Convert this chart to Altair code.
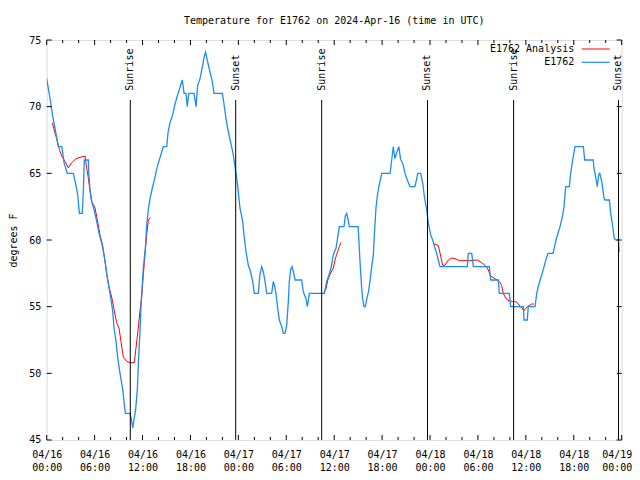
import datetime as dt
import altair as alt
import pandas as pd

# ---------------- data (hours after 2024-04-16 00:00 UTC, degrees F) ----------------
blue_hours = [0.00, 0.42, 0.75, 1.04, 1.33, 1.45, 1.90, 2.17, 2.58, 3.33, 3.67, 3.88, 4.09, 4.46, 4.59, 4.71,
              5.21, 5.28, 5.42, 5.63, 5.92, 6.26, 6.59, 6.88, 7.18, 7.43, 7.72, 8.01, 8.26, 8.43, 8.68, 8.85,
              9.05, 9.26, 9.52, 9.68, 9.85, 10.43, 10.60, 10.77, 10.95, 11.14, 11.35, 11.50, 11.68, 11.85,
              12.10, 12.35, 12.52, 12.73, 12.94, 13.23, 13.56, 13.85, 14.10, 14.40, 14.60, 15.03, 15.20,
              15.44, 15.78, 16.07, 16.36, 16.61, 16.98, 17.20, 17.45, 17.60, 17.80, 18.45, 18.70, 18.90,
              19.20, 19.50, 19.74, 19.90, 20.10, 20.45, 20.70, 20.95, 22.00, 22.20, 22.45, 22.75, 23.04,
              23.30, 23.58, 23.87, 24.20, 24.54, 24.70, 24.96, 25.25, 25.54, 25.79, 26.00, 26.50, 26.70,
              26.92, 27.13, 27.34, 27.55, 28.17, 28.38, 28.55, 28.71, 28.92, 29.13, 29.43, 29.63, 29.84,
              30.05, 30.26, 30.38, 30.55, 30.72, 30.90, 31.10, 31.93, 32.14, 32.47, 32.64, 32.89, 34.77,
              35.06, 35.35, 35.60, 35.89, 36.23, 36.44, 36.64, 37.23, 37.39, 37.57, 37.75, 37.90, 39.00,
              39.23, 39.44, 39.56, 39.73, 39.90, 40.08, 40.29, 40.50, 40.70, 40.90, 41.03, 41.23, 41.40,
              41.60, 41.95, 43.00, 43.20, 43.40, 43.60, 43.85, 44.10, 44.30, 44.65, 44.87, 45.15, 45.50,
              46.10, 46.30, 46.45, 46.83, 47.10, 47.28, 47.58, 47.80, 48.08, 48.33, 48.62, 48.83, 49.04,
              49.25, 52.67, 52.80, 53.22, 53.42, 55.42, 55.60, 56.55, 56.67, 57.93, 58.10, 59.68, 59.77,
              60.18, 60.30, 61.15, 61.36, 61.55, 61.78, 62.05, 62.28, 62.55, 62.77, 63.40, 63.78, 64.07,
              64.28, 64.62, 64.78, 64.99, 65.44, 65.61, 65.86, 66.15, 67.20, 67.37, 68.45, 68.50, 68.78,
              68.95, 69.12, 69.25, 69.50, 69.80, 69.92, 70.46, 70.63, 70.88, 71.08, 71.30, 71.60, 71.68]
blue_temps = [72.1, 70.6, 69.3, 68.4, 67.4, 67.0, 67.0, 65.8, 65.0, 65.0, 64.1, 63.4, 62.0, 62.0, 63.7, 66.0,
              66.0, 64.9, 63.8, 62.9, 62.3, 61.4, 60.4, 59.8, 58.9, 57.9, 56.7, 55.7, 54.7, 53.4, 52.4, 51.4,
              50.5, 49.7, 48.8, 47.9, 47.0, 47.0, 46.6, 45.9, 46.6, 47.3, 48.8, 51.0, 53.1, 55.6,
              57.9, 59.4, 61.1, 62.3, 63.1, 63.9, 64.7, 65.5, 66.0, 66.6, 67.0, 67.0, 68.1,
              68.8, 69.4, 70.2, 70.8, 71.3, 72.0, 71.0, 71.0, 70.0, 71.0, 71.0, 70.0, 71.6,
              72.1, 73.0, 73.8, 74.1, 73.5, 72.6, 72.0, 71.0, 71.0, 70.2, 69.1, 68.1, 67.3,
              66.6, 65.5, 64.3, 62.4, 61.4, 60.4, 59.1, 58.1, 57.6, 56.9, 56.0, 56.0, 57.4,
              58.0, 57.6, 56.9, 56.0, 56.0, 56.9, 56.5, 56.0, 54.9, 54.0, 53.5, 53.0, 53.0,
              53.6, 55.4, 56.9, 57.8, 58.0, 57.6, 57.0, 57.0, 56.1, 55.6, 55.0, 56.0, 56.0,
              56.9, 57.4, 57.9, 58.9, 59.4, 60.2, 61.0, 61.0, 61.8, 62.0, 61.5, 61.0, 61.0,
              58.4, 56.4, 55.6, 55.0, 55.0, 55.6, 56.1, 57.0, 58.0, 58.9, 60.4, 62.4, 63.3,
              64.0, 65.0, 65.0, 66.0, 67.0, 66.1, 66.6, 67.0, 66.1, 65.6, 65.0, 64.5, 64.0,
              64.0, 64.5, 65.0, 65.0, 64.2, 63.3, 62.3, 61.2, 60.4, 60.0, 59.4, 59.0, 58.5,
              58.0, 58.0, 59.0, 59.0, 58.0, 58.0, 57.0, 57.0, 56.0, 56.0, 55.0, 55.0, 54.0,
              54.0, 55.0, 55.0, 56.0, 56.5, 57.0, 57.5, 58.0, 58.6, 59.0, 59.0, 60.0, 60.6,
              61.0, 61.9, 62.5, 64.0, 64.0, 65.0, 66.0, 67.0, 67.0, 66.0, 66.0, 65.5, 64.6,
              64.0, 64.9, 65.0, 64.4, 63.1, 63.0, 63.0, 62.0, 61.0, 60.1, 60.0, 60.0, 59.1]

red1_hours = [0.70, 1.00, 1.25, 1.58, 1.88, 2.29, 2.71, 3.13, 3.67, 4.17, 4.80, 5.00, 5.20, 5.42, 5.63, 6.05,
              6.34, 6.67, 7.00, 7.30, 7.51, 7.84, 8.14, 8.43, 8.76, 9.05, 9.30, 9.60, 10.02, 10.43, 10.97,
              11.18, 11.47, 11.68, 11.90, 12.10, 12.31, 12.52, 12.73, 13.02]
red1_temps = [68.8, 68.1, 67.6, 66.8, 66.3, 65.9, 65.4, 65.8, 66.1, 66.2, 66.3, 65.4, 64.7, 63.7, 62.9, 62.4,
              61.5, 60.4, 59.6, 58.4, 57.4, 56.4, 55.7, 54.8, 53.8, 53.4, 52.4, 51.2, 50.9, 50.8, 50.8,
              51.9, 53.4, 54.7, 55.7, 57.4, 58.9, 60.4, 61.5, 61.7]
red2_hours = [34.70, 35.00, 35.20, 35.47, 35.89, 36.10, 36.30, 36.64, 36.85]
red2_temps = [56.0, 56.4, 57.0, 57.4, 57.9, 58.5, 58.9, 59.5, 59.8]
red3_hours = [48.50, 49.04, 49.33, 49.58, 49.85, 50.30, 50.71, 51.13, 51.67, 53.00, 53.92, 54.47, 54.88,
              55.05, 55.30, 55.60, 56.13, 56.67, 56.96, 57.17, 57.38, 57.67, 58.22, 58.84, 59.26, 59.77,
              60.18, 60.73, 61.02]
red3_temps = [59.7, 59.6, 58.8, 58.1, 58.1, 58.5, 58.65, 58.6, 58.45, 58.45, 58.5, 58.3, 58.1,
              58.0, 57.75, 57.3, 57.1, 56.9, 56.6, 56.0, 55.75, 55.5, 55.4, 55.35, 55.05, 54.7,
              55.0, 55.2, 55.2]

sun_times = ["2024-04-16 10:28", "2024-04-16 23:40", "2024-04-17 10:26",
             "2024-04-17 23:41", "2024-04-18 10:28", "2024-04-18 23:36"]
sun_labels = ["Sunrise", "Sunset", "Sunrise", "Sunset", "Sunrise", "Sunset"]

series_names = ["E1762 Analysis", "E1762"]
series_colors = ["#ff0000", "#1e8cf0"]
y_ticks = [45, 50, 55, 60, 65, 70, 75]

# ---------------- build tables ----------------
BASE = dt.datetime(2024, 4, 16, tzinfo=dt.timezone.utc)


def to_ms(h):
    return int((BASE + dt.timedelta(hours=h)).timestamp() * 1000)


def ts_ms(s):
    return int(dt.datetime.strptime(s, "%Y-%m-%d %H:%M").replace(tzinfo=dt.timezone.utc).timestamp() * 1000)


blue_df = pd.DataFrame({"t": [to_ms(h) for h in blue_hours], "temp": blue_temps,
                        "series": series_names[1], "seg": "b"})
red_rows = []
for seg, (hs, ts) in enumerate([(red1_hours, red1_temps), (red2_hours, red2_temps), (red3_hours, red3_temps)]):
    for h, v in zip(hs, ts):
        red_rows.append({"t": to_ms(h), "temp": v, "series": series_names[0], "seg": f"r{seg}"})
red_df = pd.DataFrame(red_rows)

sun_df = pd.DataFrame({"t": [ts_ms(s) for s in sun_times], "label": sun_labels})

X0, X1 = 0, 72
Y0, Y1 = 45, 75
W, H = 575, 400
H_PER_PX = (X1 - X0) / W
D_PER_PX = (Y1 - Y0) / H

# inward tick marks (gnuplot style, mirrored)
xt_rows = []
for h in range(0, 73, 2):
    L = (5 if h % 6 == 0 else 3) * D_PER_PX
    xt_rows.append({"t": to_ms(h), "a": Y0, "b": Y0 + L})
    xt_rows.append({"t": to_ms(h), "a": Y1, "b": Y1 - L})
xt_df = pd.DataFrame(xt_rows)
yt_rows = []
for v in y_ticks:
    L = 5 * H_PER_PX
    yt_rows.append({"v": v, "a": to_ms(X0), "b": to_ms(X0 + L)})
    yt_rows.append({"v": v, "a": to_ms(X1), "b": to_ms(X1 - L)})
yt_df = pd.DataFrame(yt_rows)

MONO = "DejaVu Sans Mono"

xscale = alt.Scale(type="utc", domain=[to_ms(X0), to_ms(X1)])
yscale = alt.Scale(domain=[Y0, Y1], nice=False, zero=False)

LAST_MS = to_ms(X1)
x_axis = alt.Axis(values=[to_ms(h) for h in range(0, 73, 6)], ticks=False, domain=False, grid=False,
                  labelExpr="[utcFormat(datum.value, '%m/%d'), utcFormat(datum.value, '%H:%M')]",
                  labelFont=MONO, labelFontSize=10, labelColor="black", labelPadding=10,
                  labelLineHeight=13, labelFlush=False, labelOverlap=False, title=None,
                  labelOffset=alt.condition(f"datum.value >= {LAST_MS}", alt.value(-5), alt.value(0)))
y_axis = alt.Axis(values=y_ticks, ticks=False, domain=False, grid=False,
                  labelFont=MONO, labelFontSize=10, labelColor="black", labelPadding=6,
                  title="degrees F", titleFont=MONO, titleFontSize=10, titleFontWeight="normal",
                  titleColor="black", titlePadding=10)

color = alt.Color("series:N", scale=alt.Scale(domain=series_names, range=series_colors), legend=None)

red = alt.Chart(red_df).mark_line(strokeWidth=1, clip=True).encode(
    x=alt.X("t:T", scale=xscale, axis=x_axis),
    y=alt.Y("temp:Q", scale=yscale, axis=y_axis),
    color=color, detail="seg:N")
blue = alt.Chart(blue_df).mark_line(strokeWidth=1.3, clip=True).encode(
    x="t:T", y="temp:Q", color=color, detail="seg:N")

sun_rules = alt.Chart(sun_df).mark_rule(color="black", strokeWidth=1).encode(
    x="t:T", y=alt.datum(70.5), y2=alt.datum(45))
sun_text = alt.Chart(sun_df).mark_text(angle=270, align="left", baseline="middle", font=MONO,
                                       fontSize=10, color="black").encode(
    x="t:T", y=alt.datum(71.2), text="label:N")

xticks = alt.Chart(xt_df).mark_rule(color="black", strokeWidth=1).encode(
    x="t:T", y="a:Q", y2="b:Q")
yticks = alt.Chart(yt_df).mark_rule(color="black", strokeWidth=1).encode(
    y="v:Q", x="a:T", x2="b:T")

# gnuplot-style key (label on the left, line sample on the right), top-right inside the frame
key_layers = []
for i, (name, col) in enumerate(zip(series_names, series_colors)):
    ky = 9 + 13.3 * i
    key_layers.append(alt.Chart().mark_text(align="right", baseline="middle", font=MONO, fontSize=10,
                                            color="black").encode(
        x=alt.value(527.5), y=alt.value(ky), text=alt.value(name)))
    key_layers.append(alt.Chart().mark_rule(color=col, strokeWidth=1.2 if i else 1).encode(
        x=alt.value(535), x2=alt.value(563), y=alt.value(ky)))

chart = alt.layer(red, blue, sun_rules, sun_text, xticks, yticks, *key_layers).properties(
    width=W, height=H,
    title=alt.TitleParams("Temperature for E1762 on 2024-Apr-16 (time in UTC)", font=MONO,
                          fontSize=10, fontWeight="normal", color="black", anchor="middle", offset=9),
    autosize=alt.AutoSizeParams(type="none"),
    padding={"left": 38.7, "top": 32, "right": 10, "bottom": 40},
).configure_view(stroke="black", strokeWidth=1).configure(background="white")

chart.save("out.html", embed_options={"renderer": "svg", "actions": False})
